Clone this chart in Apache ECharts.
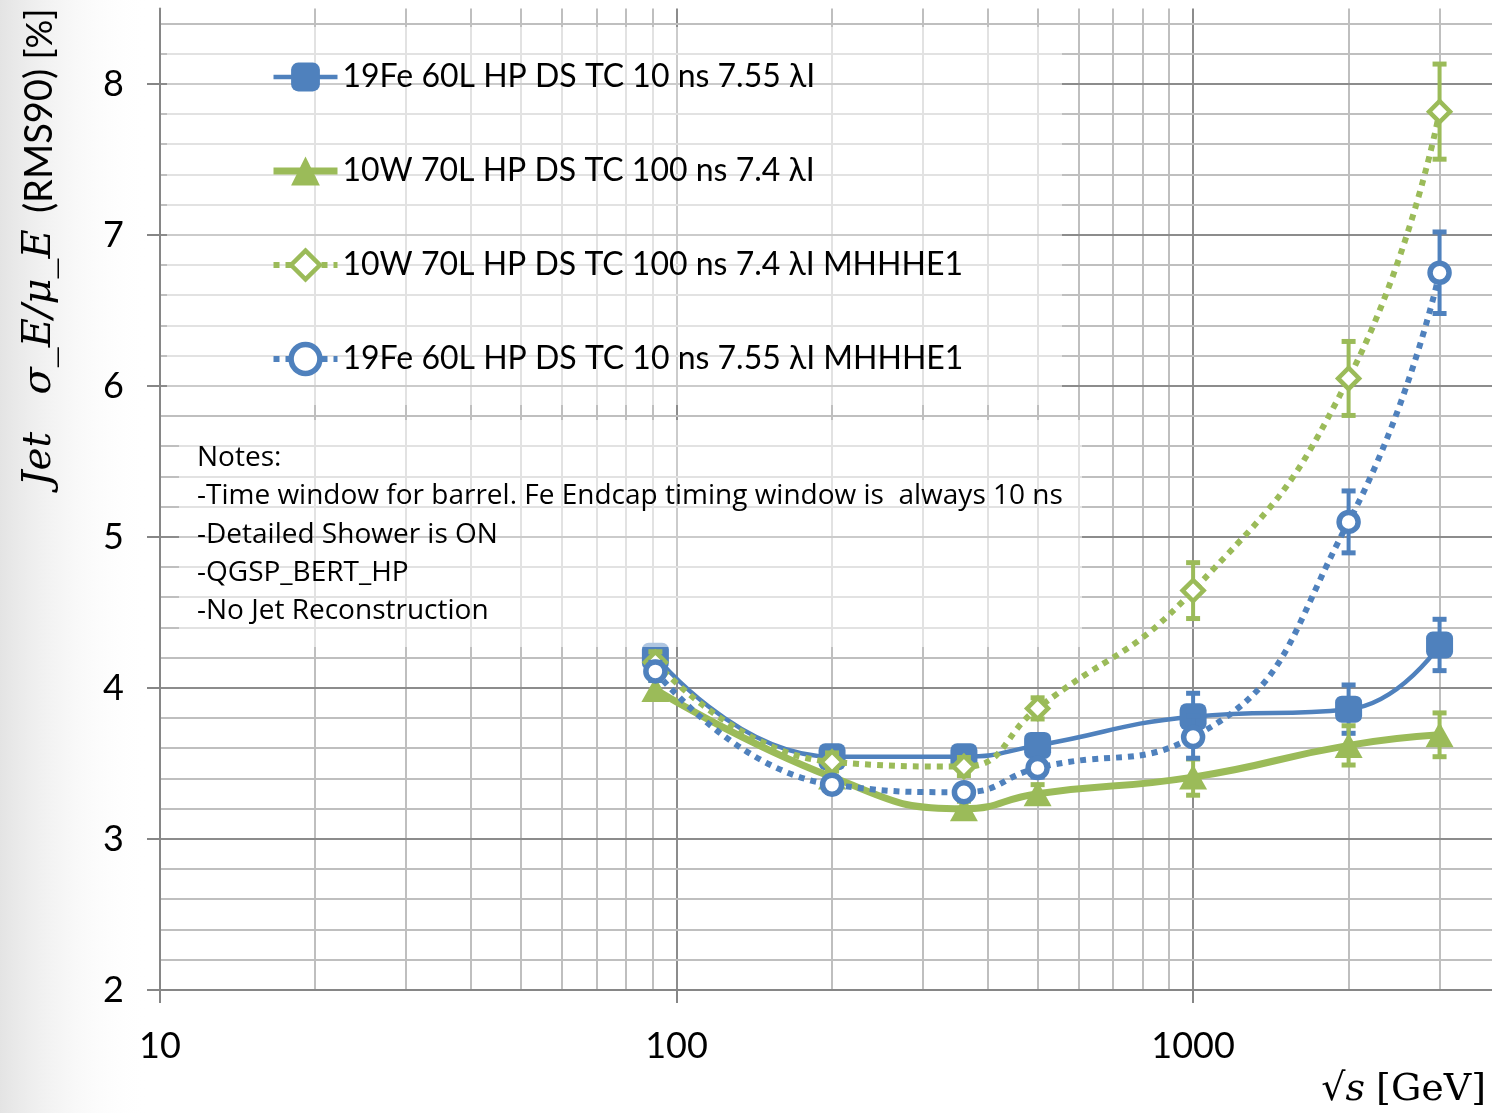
<!DOCTYPE html>
<html>
<head>
<meta charset="utf-8">
<script src="https://cdn.jsdelivr.net/npm/echarts@6/dist/echarts.min.js"></script>
<style>
  html, body { margin: 0; padding: 0; background: #ffffff; }
  #chart { width: 1492px; height: 1113px; }
</style>
</head>
<body>
<div id="chart"></div>
<script>
// Centre-of-mass energies (GeV)
const energies = [91, 200, 360, 500, 1000, 2000, 3000];

// Jet energy resolution sigma_E/mu_E (RMS90) [%] and its uncertainty
const fe10      = [4.21, 3.545, 3.545, 3.62, 3.81, 3.86, 4.285];
const fe10Err   = [0.06, 0.05, 0.05, 0.06, 0.155, 0.16, 0.17];
const w100      = [3.99, 3.41, 3.20, 3.30, 3.41, 3.62, 3.69];
const w100Err   = [0.06, 0.05, 0.05, 0.06, 0.12, 0.13, 0.145];
const w100M     = [4.17, 3.51, 3.48, 3.865, 4.645, 6.05, 7.817];
const w100MErr  = [0.07, 0.06, 0.06, 0.07, 0.185, 0.245, 0.315];
const fe10M     = [4.11, 3.36, 3.31, 3.47, 3.675, 5.10, 6.75];
const fe10MErr  = [0.06, 0.05, 0.05, 0.06, 0.14, 0.205, 0.27];

const seriesNames = [
  '19Fe 60L HP DS TC 10 ns 7.55 λI',
  '10W 70L HP DS TC 100 ns 7.4 λI',
  '10W 70L HP DS TC 100 ns 7.4 λI MHHHE1',
  '19Fe 60L HP DS TC 10 ns 7.55 λI MHHHE1'
];

const xTickLabels = [10, 100, 1000];
const yTickLabels = [2, 3, 4, 5, 6, 7, 8];

const notes = [
  'Notes:',
  '-Time window for barrel. Fe Endcap timing window is  always 10 ns',
  '-Detailed Shower is ON',
  '-QGSP_BERT_HP',
  '-No Jet Reconstruction'
];

const BLUE = '#4F81BD';
const GREEN = '#9BBB59';
const X_MIN = 10, X_MAX = 3790, Y_MIN = 2, Y_MAX = 8.5;

// Log grid: every integer multiple inside each decade, decades are major
const xGrid = [];
for (let dec = 10; dec < X_MAX; dec *= 10) {
  for (let k = 1; k <= 9; k++) {
    const v = k * dec;
    if (v > X_MIN && v < X_MAX) xGrid.push([v, k === 1 ? 1 : 0]);
  }
}
// Linear grid: minor every 0.2, major every 1
const yGrid = [];
for (let i = 11; i <= 42; i++) {
  yGrid.push([X_MIN, i / 5, i % 5 === 0 ? 1 : 0]);
}

function vGridRender(params, api) {
  const v = api.value(0);
  const major = api.value(1) === 1;
  const a = api.coord([v, Y_MIN]);
  const b = api.coord([v, Y_MAX]);
  return {
    type: 'line', silent: true,
    shape: { x1: Math.round(a[0]), y1: a[1], x2: Math.round(b[0]), y2: b[1] },
    style: { stroke: major ? '#8c8c8c' : '#bfbfbf', lineWidth: 2 }
  };
}
function hGridRender(params, api) {
  const v = api.value(1);
  const major = api.value(2) === 1;
  const a = api.coord([X_MIN, v]);
  const b = api.coord([X_MAX, v]);
  return {
    type: 'line', silent: true,
    shape: { x1: a[0], y1: Math.round(a[1]), x2: b[0], y2: Math.round(b[1]) },
    style: { stroke: major ? '#8c8c8c' : '#bfbfbf', lineWidth: 2 }
  };
}

function errorBarRender(color) {
  return function (params, api) {
    const x = api.value(0), y = api.value(1), e = api.value(2);
    const top = api.coord([x, y + e]);
    const bot = api.coord([x, y - e]);
    const w = 7;
    return {
      type: 'group', silent: true,
      children: [
        { type: 'line', shape: { x1: top[0], y1: top[1], x2: bot[0], y2: bot[1] }, style: { stroke: color, lineWidth: 4 } },
        { type: 'line', shape: { x1: top[0] - w, y1: top[1], x2: top[0] + w, y2: top[1] }, style: { stroke: color, lineWidth: 5 } },
        { type: 'line', shape: { x1: bot[0] - w, y1: bot[1], x2: bot[0] + w, y2: bot[1] }, style: { stroke: color, lineWidth: 5 } }
      ]
    };
  };
}

const pairs = (ys) => energies.map((x, i) => [x, ys[i]]);
const triples = (ys, es) => energies.map((x, i) => [x, ys[i], es[i]]);

function errSeries(ys, es, color, z) {
  return {
    type: 'custom', z: z, silent: true,
    renderItem: errorBarRender(color),
    encode: { x: 0, y: 1 },
    data: triples(ys, es)
  };
}

// Per-series styling, shared by the plotted lines and their legend entries
const styles = [
  { symbol: 'roundRect', symbolSize: 27,
    line: { color: BLUE, width: 4.5 },
    item: { color: BLUE } },
  { symbol: 'triangle', symbolSize: [28, 25],
    line: { color: GREEN, width: 7 },
    item: { color: GREEN } },
  { symbol: 'diamond', symbolSize: 21,
    line: { color: GREEN, width: 6, type: [6, 6], cap: 'butt' },
    item: { color: '#ffffff', borderColor: GREEN, borderWidth: 4.5 } },
  { symbol: 'circle', symbolSize: 19,
    line: { color: BLUE, width: 6, type: [6, 6], cap: 'butt' },
    item: { color: '#ffffff', borderColor: BLUE, borderWidth: 5.5 } }
];

function lineSeries(idx, ys, z) {
  const s = styles[idx];
  return {
    name: seriesNames[idx], type: 'line', z: z,
    data: pairs(ys), smooth: 0.5,
    symbol: s.symbol, symbolSize: s.symbolSize,
    lineStyle: s.line, itemStyle: s.item
  };
}

const chart = echarts.init(document.getElementById('chart'), null, { renderer: 'canvas' });

const option = {
  backgroundColor: '#ffffff',
  animation: false,
  grid: { left: 160, top: 8.5, width: 1332, height: 981.5, containLabel: false },
  xAxis: {
    type: 'log', logBase: 10, min: X_MIN, max: X_MAX,
    splitLine: { show: false },
    minorSplitLine: { show: false },
    axisLine: { show: true, onZero: false, lineStyle: { color: '#868686', width: 2 } },
    axisTick: { show: true, length: 13, customValues: xTickLabels, lineStyle: { color: '#868686', width: 2 } },
    axisLabel: {
      customValues: xTickLabels, margin: 38,
      formatter: (v) => String(Math.round(v)),
      fontFamily: 'Lato', fontSize: 36, color: '#000000'
    }
  },
  yAxis: {
    type: 'value', min: Y_MIN, max: Y_MAX, interval: 1,
    splitLine: { show: false },
    axisLine: { show: true, lineStyle: { color: '#868686', width: 2 } },
    axisTick: { show: true, length: 13, customValues: yTickLabels, lineStyle: { color: '#868686', width: 2 } },
    axisLabel: {
      customValues: yTickLabels, margin: 36,
      fontFamily: 'Lato', fontSize: 36, color: '#000000'
    }
  },
  legend: {
    data: seriesNames.map((n, i) => ({
      name: n,
      lineStyle: styles[i].line,
      itemStyle: styles[i].item
    })),
    orient: 'vertical',
    left: 265, top: 54,
    itemWidth: 64, itemHeight: 36, itemGap: 58,
    z: 60,
    textStyle: { fontFamily: 'Lato', fontSize: 32, color: '#000000', lineHeight: 36 }
  },
  graphic: [
    {
      type: 'rect', z: -10, silent: true,
      shape: { x: 0, y: 0, width: 150, height: 1113 },
      style: {
        fill: new echarts.graphic.LinearGradient(0, 0, 1, 0, [
          { offset: 0, color: 'rgba(205,205,205,0.55)' },
          { offset: 1, color: 'rgba(255,255,255,0)' }
        ])
      }
    },
    {
      type: 'rect', z: 50, silent: true,
      shape: { x: 167, y: 27, width: 895, height: 378 },
      style: { fill: 'rgba(255,255,255,0.55)' }
    },
    {
      type: 'rect', z: 50, silent: true,
      shape: { x: 179, y: 420, width: 903, height: 227 },
      style: { fill: 'rgba(255,255,255,0.55)' }
    },
    {
      type: 'text', z: 60, silent: true,
      x: 197, y: 439,
      style: {
        text: notes.join('\n'),
        fontFamily: 'Open Sans', fontSize: 28, lineHeight: 38.3,
        fill: '#000000', verticalAlign: 'top', align: 'left'
      }
    },
    // Rotated y-axis title, built from its separate pieces
    {
      type: 'text', z: 60, silent: true, x: 40, y: 459, rotation: Math.PI / 2,
      style: { text: 'Jet', align: 'center', verticalAlign: 'middle', fill: '#000000',
               fontFamily: 'DejaVu Serif', fontStyle: 'italic', fontSize: 39 }
    },
    {
      type: 'text', z: 60, silent: true, x: 40, y: 312, rotation: Math.PI / 2,
      style: { text: 'σ_E/μ_E', align: 'center', verticalAlign: 'middle', fill: '#000000',
               fontFamily: 'DejaVu Serif', fontStyle: 'italic', fontSize: 40 }
    },
    {
      type: 'text', z: 60, silent: true, x: 40, y: 141, rotation: Math.PI / 2,
      style: { text: '(RMS90)', align: 'center', verticalAlign: 'middle', fill: '#000000',
               fontFamily: 'Lato', fontSize: 38 }
    },
    {
      type: 'text', z: 60, silent: true, x: 40, y: 34, rotation: Math.PI / 2,
      style: { text: '[%]', align: 'center', verticalAlign: 'middle', fill: '#000000',
               fontFamily: 'Lato', fontSize: 36 }
    },
    {
      type: 'text', z: 60, silent: true,
      x: 1365, y: 1090,
      style: {
        text: '{r|√}{i|s}',
        align: 'right', verticalAlign: 'middle',
        fill: '#000000',
        rich: {
          r: { fontFamily: 'DejaVu Serif', fontSize: 38, fill: '#000000' },
          i: { fontFamily: 'DejaVu Serif', fontStyle: 'italic', fontSize: 38, fill: '#000000' }
        }
      }
    },
    {
      type: 'text', z: 60, silent: true,
      x: 1486, y: 1090,
      style: {
        text: '[GeV]', align: 'right', verticalAlign: 'middle', fill: '#000000',
        fontFamily: 'DejaVu Serif', fontSize: 38
      }
    }
  ],
  series: [
    { type: 'custom', z: 0, silent: true, renderItem: vGridRender, encode: { x: 0 }, data: xGrid },
    { type: 'custom', z: 0, silent: true, renderItem: hGridRender, encode: { x: 0, y: 1 }, data: yGrid },

    errSeries(fe10, fe10Err, BLUE, 2),
    lineSeries(0, fe10, 3),
    errSeries(w100, w100Err, GREEN, 4),
    lineSeries(1, w100, 5),
    errSeries(w100M, w100MErr, GREEN, 6),
    lineSeries(2, w100M, 7),
    errSeries(fe10M, fe10MErr, BLUE, 8),
    lineSeries(3, fe10M, 9)
  ]
};

chart.setOption(option);
</script>
</body>
</html>
